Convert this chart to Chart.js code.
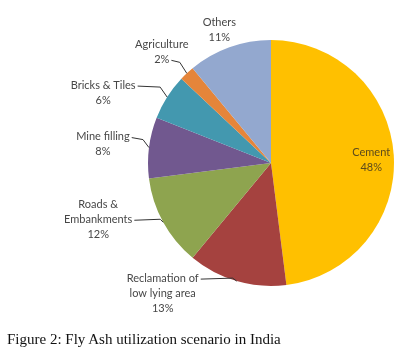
<!DOCTYPE html>
<html>
<head>
<meta charset="utf-8">
<script src="https://cdn.jsdelivr.net/npm/chart.js@4.4.1/dist/chart.umd.min.js"></script>
<style>
  html, body { margin: 0; padding: 0; background: #fff; }
  #wrap { position: relative; width: 401px; height: 352px; }
  #caption { position: absolute; left: 7px; top: 331px; font-family: "Liberation Serif", "Times New Roman", serif; font-size: 15px; color: #111; white-space: nowrap; }
</style>
</head>
<body>
<div id="wrap">
  <canvas id="pie" width="401" height="352"></canvas>
  <div id="caption">Figure 2: Fly Ash utilization scenario in India</div>
</div>
<script>
// Fly ash utilisation shares (%), clockwise from 12 o'clock
const categories = ['Cement', 'Reclamation of low lying area', 'Roads & Embankments', 'Mine filling', 'Bricks & Tiles', 'Agriculture', 'Others'];
const shares = [48, 13, 12, 8, 6, 2, 11];
const labelLines = [['Cement'], ['Reclamation of', 'low lying area'], ['Roads &', 'Embankments'], ['Mine filling'], ['Bricks & Tiles'], ['Agriculture'], ['Others']];
const colors = ['#FFC000', '#A5423F', '#8EA44F', '#71588F', '#4398AF', '#E5853A', '#93A8CF'];

// label placement relative to the slice's outer midpoint (text centre dx, first line dy, elbow dx/dy, line it hooks to)
const labelStyle = [
  { inside: true },
  { dx: -74, dy: -3, ex: -4, ey: -3, hook: 0 },
  { dx: -65, dy: -18, ex: -3, ey: -3, hook: 1 },
  { dx: -46, dy: -11, ex: -6, ey: -8, hook: 0 },
  { dx: -64, dy: -12, ex: -7, ey: -10, hook: 0 },
  { dx: -25, dy: -29, ex: -7, ey: -11, hook: 1 },
  { dx: -10, dy: -25, hook: -1 },
];

const pieLabels = {
  id: 'pieLabels',
  afterDatasetsDraw(chart) {
    const ctx = chart.ctx;
    const arcs = chart.getDatasetMeta(0).data;
    ctx.save();
    ctx.font = '11px Lato, "Open Sans", sans-serif';
    ctx.strokeStyle = '#333';
    ctx.lineWidth = 1;
    ctx.textAlign = 'center';
    ctx.textBaseline = 'middle';
    arcs.forEach((arc, i) => {
      const st = labelStyle[i];
      const lines = labelLines[i].concat([shares[i] + '%']);
      const mid = (arc.startAngle + arc.endAngle) / 2;
      const lh = 15;
      if (st.inside) {
        const r = arc.outerRadius * 0.8;
        const cx = arc.x + Math.cos(mid) * r + 2;
        const cy = arc.y + Math.sin(mid) * r - 4;
        ctx.fillStyle = '#5c4a1c';
        lines.forEach((t, k) => ctx.fillText(t, cx, cy + k * lh));
        return;
      }
      ctx.fillStyle = '#474747';
      const px = arc.x + Math.cos(mid) * arc.outerRadius;
      const py = arc.y + Math.sin(mid) * arc.outerRadius;
      const tx = px + st.dx;
      const ty = py + st.dy;
      lines.forEach((t, k) => ctx.fillText(t, tx, ty + k * lh));
      if (st.hook >= 0) {
        const w = ctx.measureText(lines[st.hook]).width;
        const ly = ty + st.hook * lh + 1;
        ctx.beginPath();
        ctx.moveTo(tx + w / 2 + 2, ly);
        ctx.lineTo(px + st.ex, py + st.ey);
        ctx.lineTo(px, py);
        ctx.stroke();
      }
    });
    ctx.restore();
  }
};

new Chart(document.getElementById('pie'), {
  type: 'pie',
  data: {
    labels: categories,
    datasets: [{ data: shares, backgroundColor: colors, borderWidth: 0 }]
  },
  options: {
    responsive: false,
    animation: false,
    layout: { padding: { left: 148, right: 7, top: 40, bottom: 66 } },
    plugins: { legend: { display: false }, tooltip: { enabled: false } }
  },
  plugins: [pieLabels]
});
</script>
</body>
</html>
